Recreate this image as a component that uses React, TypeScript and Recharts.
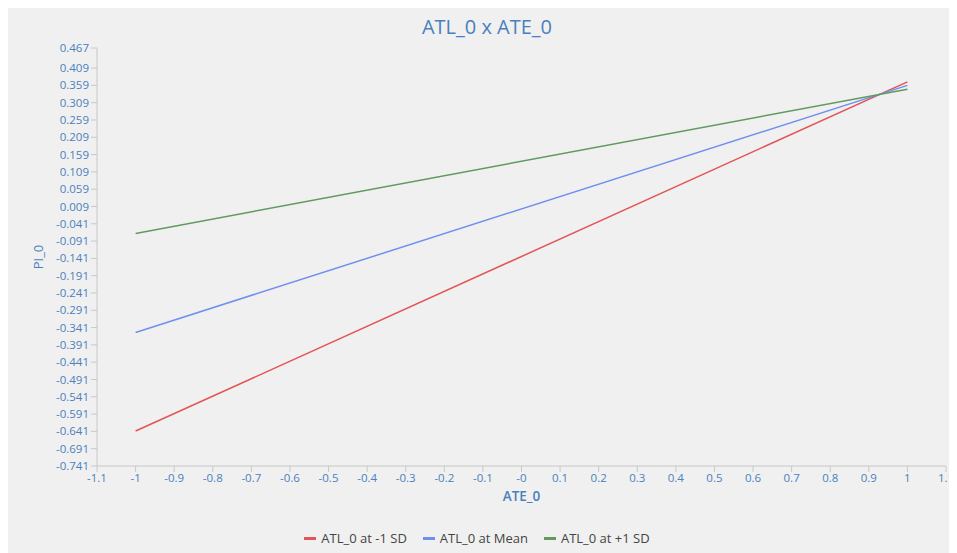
import React from "react";
import { LineChart, Line, XAxis, YAxis, Legend, Label } from "recharts";

const xValues = [-1, 1];
const atlLow = [-0.640, 0.369];
const atlMean = [-0.355, 0.359];
const atlHigh = [-0.069, 0.348];

const seriesNames = ["ATL_0 at -1 SD", "ATL_0 at Mean", "ATL_0 at +1 SD"];

const xTickLabels = ["-1.1", "-1", "-0.9", "-0.8", "-0.7", "-0.6", "-0.5", "-0.4", "-0.3", "-0.2", "-0.1", "-0", "0.1", "0.2", "0.3", "0.4", "0.5", "0.6", "0.7", "0.8", "0.9", "1", "1.1"];
const yTickLabels = ["-0.741", "-0.691", "-0.641", "-0.591", "-0.541", "-0.491", "-0.441", "-0.391", "-0.341", "-0.291", "-0.241", "-0.191", "-0.141", "-0.091", "-0.041", "0.009", "0.059", "0.109", "0.159", "0.209", "0.259", "0.309", "0.359", "0.409", "0.467"];

const data = xValues.map((x, i) => ({ x, low: atlLow[i], mean: atlMean[i], high: atlHigh[i] }));
const xTicks = xTickLabels.map(Number);
const yTicks = yTickLabels.map(Number);

const FONT = "'Open Sans', 'Noto Sans', sans-serif";
const BLUE = "#4a80bd";
const COLORS = ["#e35454", "#6f8ff0", "#609a60"];

const renderLegend = () => (
  <div style={{ display: "flex", justifyContent: "center", gap: 16, fontSize: 13, fontFamily: FONT, color: "#444" }}>
    {seriesNames.map((name, i) => (
      <div key={name} style={{ display: "flex", alignItems: "center" }}>
        <span style={{ display: "inline-block", width: 12, height: 3, background: COLORS[i], marginRight: 5 }} />
        <span>{name}</span>
      </div>
    ))}
  </div>
);

export default function App() {
  return (
    <div style={{ position: "relative", width: 949, height: 545, background: "#f0f0f0", fontFamily: FONT, boxShadow: "12px 0 0 #f0f0f0" }}>
      <style>{"html,body{overflow:hidden;}"}</style>
      <div style={{ position: "absolute", left: 0, top: 5, width: 958, textAlign: "center", color: BLUE, fontSize: 20, fontFamily: FONT }}>
        ATL_0 x ATE_0
      </div>
      <LineChart width={949} height={545} data={data} margin={{ top: 40, right: 11, left: 0, bottom: 19 }}>
        <XAxis
          dataKey="x"
          type="number"
          domain={[-1.1, 1.1]}
          ticks={xTicks}
          interval={0}
          tickFormatter={(v: number, i: number) => xTickLabels[i]}
          tick={{ fill: BLUE, fontSize: 11.5, fontFamily: FONT }}
          stroke="#c8c8c8"
          tickSize={6}
          height={50}
        >
          <Label value="ATE_0" position="insideTop" offset={25} style={{ fill: BLUE, fontSize: 13.5, fontWeight: 600, fontFamily: FONT }} />
        </XAxis>
        <YAxis
          type="number"
          domain={[-0.741, 0.467]}
          ticks={yTicks}
          interval={0}
          tickFormatter={(v: number, i: number) => yTickLabels[i]}
          tick={{ fill: BLUE, fontSize: 11.5, fontFamily: FONT }}
          stroke="#c8c8c8"
          tickSize={6}
          width={89}
        >
          <Label value="PI_0" angle={-90} position="insideLeft" offset={30} style={{ fill: BLUE, fontSize: 13, fontFamily: FONT, textAnchor: "middle" }} />
        </YAxis>
        <Legend
          verticalAlign="bottom"
          align="center"
          content={renderLegend}
          wrapperStyle={{ bottom: 6 }}
        />
        <Line dataKey="low" name={seriesNames[0]} stroke={COLORS[0]} strokeWidth={1.5} dot={false} isAnimationActive={false} />
        <Line dataKey="mean" name={seriesNames[1]} stroke={COLORS[1]} strokeWidth={1.5} dot={false} isAnimationActive={false} />
        <Line dataKey="high" name={seriesNames[2]} stroke={COLORS[2]} strokeWidth={1.5} dot={false} isAnimationActive={false} />
      </LineChart>
    </div>
  );
}
